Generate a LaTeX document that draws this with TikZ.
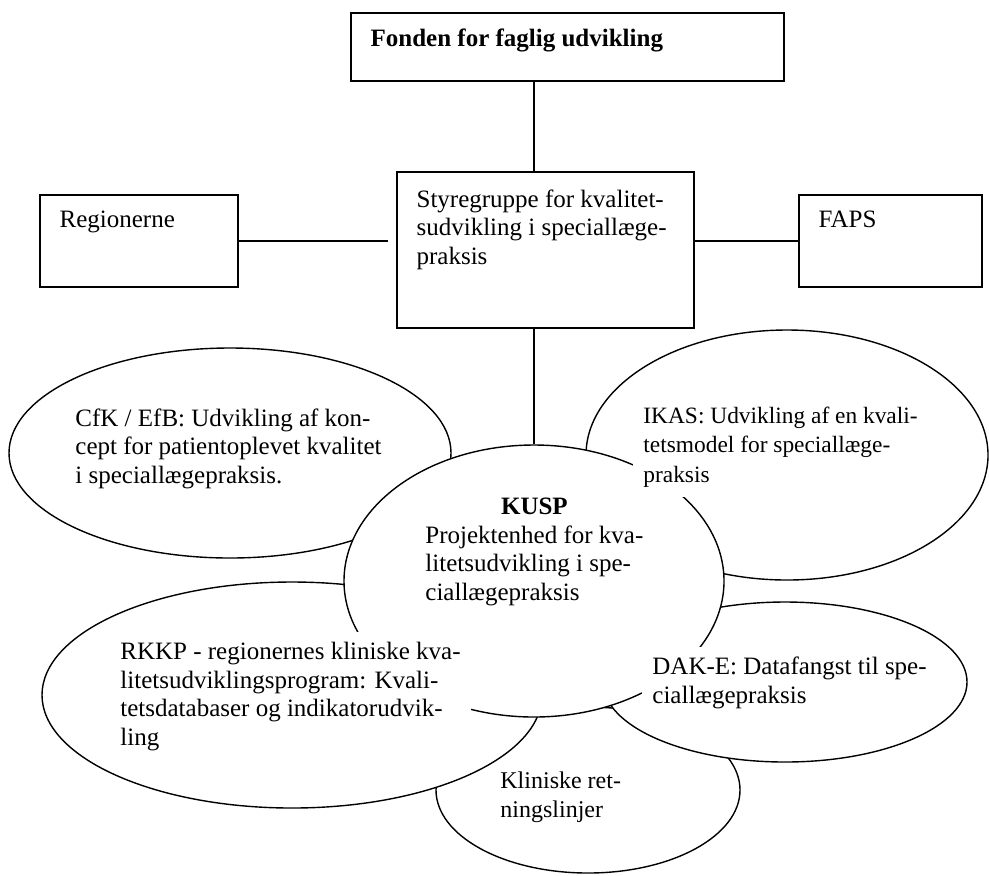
\documentclass[tikz,border=0pt]{standalone}
\usepackage{fontspec}
\setmainfont{Liberation Serif}
\usetikzlibrary{shapes.geometric}

\begin{document}
\begin{tikzpicture}[
  x=0.5pt, y=-0.5pt,
  font=\fontsize{12.5pt}{14.2pt}\selectfont,
  box/.style={draw,line width=0.8pt,inner sep=0pt},
  boxtext/.style={anchor=north west,align=left,inner xsep=10pt,inner ysep=8pt},
  oval/.style={draw,ellipse,fill=white,inner sep=0pt,line width=0.7pt},
  ovaltext/.style={anchor=base west,align=left,inner sep=5pt},
  cover/.style={ovaltext,fill=white},
  link/.style={line width=0.75pt}
]
\useasboundingbox (0,0) rectangle (989,875);

% organisation boxes
\node[box,minimum width=216.5pt,minimum height=34pt,
      label={[boxtext]north west:\textbf{Fonden for faglig udvikling}}]
  (fonden) at (567.5,47) {};
\node[box,minimum width=148.5pt,minimum height=78pt,
      label={[boxtext,inner ysep=9pt]north west:Styregruppe for kvalitet-\\sudvikling i speciallæge-\\praksis}]
  (styre) at (545.5,250) {};
\node[box,minimum width=99pt,minimum height=46pt,
      label={[boxtext]north west:Regionerne}] (regioner) at (139,241) {};
\node[box,minimum width=91.5pt,minimum height=46pt,
      label={[boxtext]north west:FAPS}] (faps) at (890.5,241) {};

% projects, back to front
\node[oval,minimum width=152pt,minimum height=83pt] (klin) at (588,790) {};
\node[oval,minimum width=250pt,minimum height=113pt] (rkkp) at (292,695) {};
\node[oval,minimum width=182pt,minimum height=80pt] (dake) at (785,682) {};
\node[oval,minimum width=221pt,minimum height=105pt] (cfk) at (230,453) {};
\node[oval,minimum width=201pt,minimum height=125pt] (ikas) at (787,455) {};
\node[oval,minimum width=190pt,minimum height=136pt] (kusp) at (534,581) {};

\draw[link] (fonden.south -| kusp.north) -- (styre.north -| kusp.north);
\draw[link] (styre.south -| kusp.north) -- (kusp.north);
\draw[link,shorten >=4pt] (regioner.east) -- (regioner.east -| styre.west);
\draw[link] (faps.west -| styre.east) -- (faps.west);

% texts on top (base = last line)
\node[ovaltext] (cfktxt) at (65,483)
  {CfK / EfB: Udvikling af kon-\\cept for patientoplevet kvalitet\\i speciallægepraksis.};
\node[cover,font=\fontsize{11.7pt}{14.6pt}\selectfont] (ikastxt) at (633,482)
  {IKAS: Udvikling af en kvali-\\tetsmodel for speciallæge-\\praksis};
\node[ovaltext] (kusptxt) at (415,600)
  {\makebox[109pt]{\textbf{KUSP}}\\Projektenhed for kva-\\litetsudvikling i spe-\\ciallægepraksis};
\node[cover] (rkkptxt) at (110,745)
  {RKKP - regionernes kliniske kva-\\litetsudviklingsprogram: Kvali-\\tetsdatabaser og indikatorudvik-\\ling};
\node[cover] (daketxt) at (642,703)
  {DAK-E: Datafangst til spe-\\ciallægepraksis};
\node[ovaltext,font=\fontsize{12pt}{14.5pt}\selectfont] (klintxt) at (490,817)
  {Kliniske ret-\\ningslinjer};
\end{tikzpicture}
\end{document}
